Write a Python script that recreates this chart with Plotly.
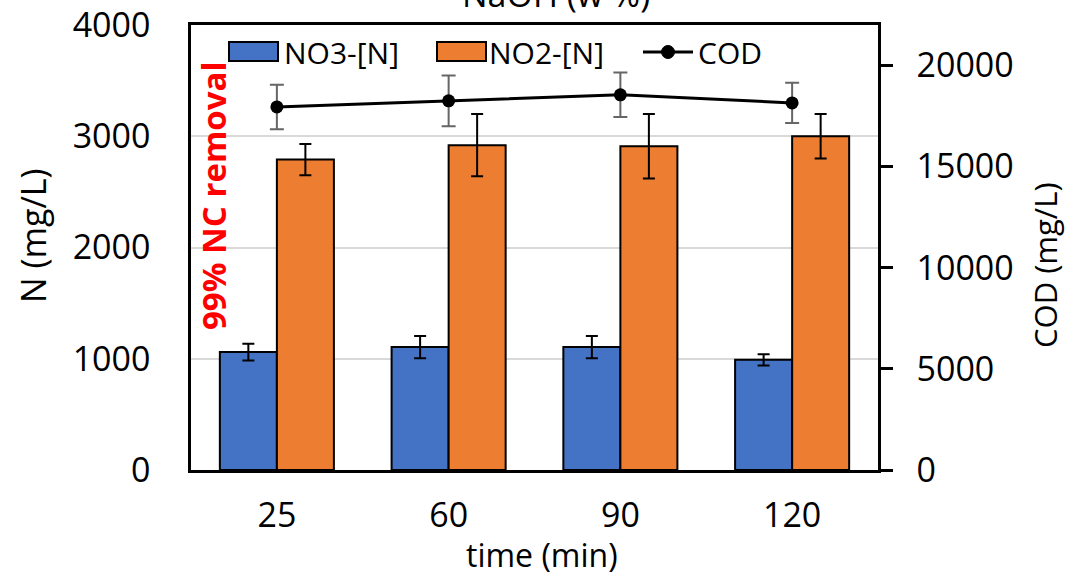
import plotly.graph_objects as go

# Reaction time categories (min)
time_labels = ["25", "60", "90", "120"]

# Nitrogen species (mg/L) with standard deviations
no3_n = [1060, 1105, 1105, 990]
no3_err = [75, 100, 100, 50]
no2_n = [2790, 2920, 2910, 3000]
no2_err = [140, 280, 290, 200]

# Chemical oxygen demand (mg/L) with standard deviations
cod = [17950, 18250, 18550, 18150]
cod_err = [1100, 1250, 1100, 1000]

BLUE = "#4472C4"
ORANGE = "#ED7D31"
FONT = "Open Sans"

# plot-area geometry in pixels, used to place legend and titles
W, H = 1072, 577
L, R, T, B = 191, 194, 25, 107
PW, PH = W - L - R, H - T - B


def px(x):
    return (x - L) / PW


def py(y):
    return (H - B - y) / PH


fig = go.Figure()

fig.add_trace(go.Bar(
    x=time_labels, y=no3_n, name="NO3-[N]",
    marker=dict(color=BLUE, line=dict(color="black", width=2)),
    error_y=dict(type="data", array=no3_err, color="black", thickness=2, width=6),
))
fig.add_trace(go.Bar(
    x=time_labels, y=no2_n, name="NO2-[N]",
    marker=dict(color=ORANGE, line=dict(color="black", width=2)),
    error_y=dict(type="data", array=no2_err, color="black", thickness=2, width=6),
))
fig.add_trace(go.Scatter(
    x=time_labels, y=cod, name="COD", yaxis="y2",
    mode="lines+markers",
    line=dict(color="black", width=3),
    marker=dict(color="black", size=13),
    error_y=dict(type="data", array=cod_err, color="#666666", thickness=2, width=7),
))

# legend drawn as shapes + text inside the top of the plot area
shapes = [
    dict(type="rect", xref="paper", yref="paper",
         x0=px(229), x1=px(278), y0=py(61), y1=py(42),
         fillcolor=BLUE, line=dict(color="black", width=2)),
    dict(type="rect", xref="paper", yref="paper",
         x0=px(437), x1=px(486), y0=py(61), y1=py(42),
         fillcolor=ORANGE, line=dict(color="black", width=2)),
    dict(type="line", xref="paper", yref="paper",
         x0=px(643), x1=px(693), y0=py(52), y1=py(52),
         line=dict(color="black", width=3)),
    dict(type="circle", xref="paper", yref="paper",
         x0=px(661.5), x1=px(674.5), y0=py(58.5), y1=py(45.5),
         fillcolor="black", line=dict(color="black", width=1)),
]


def label(text, x, y, size=34, angle=0, anchor="center", color="black", bold=False):
    return dict(text=f"<b>{text}</b>" if bold else text,
                x=px(x), y=py(y), xref="paper", yref="paper",
                xanchor=anchor, yanchor="middle", textangle=angle, showarrow=False,
                font=dict(family=FONT, size=size, color=color))


annotations = [
    label("NO3-[N]", 282, 52, size=30, anchor="left"),
    label("NO2-[N]", 487, 52, size=30, anchor="left"),
    label("COD", 696, 52, size=30, anchor="left"),
    label("99% NC removal", 213, 196, size=33, angle=-90, color="#FF0000", bold=True),
    label("time (min)", 542, 554, size=32),
    label("N (mg/L)", 33, 236, angle=-90),
    label("COD (mg/L)", 1045, 265, size=31, angle=-90),
    dict(text="NaOH (w %)", x=px(556), y=1.013, xref="paper", yref="paper",
         xanchor="center", yanchor="bottom", showarrow=False,
         font=dict(family=FONT, size=34, color="black")),
]

fig.update_layout(
    width=W, height=H, autosize=False,
    margin=dict(l=L, r=R, t=T, b=B),
    paper_bgcolor="white", plot_bgcolor="white",
    barmode="group", bargap=0.336, bargroupgap=0,
    showlegend=False,
    font=dict(family=FONT, size=34, color="black"),
    shapes=shapes, annotations=annotations,
    xaxis=dict(
        type="category", automargin=False,
        showline=True, linecolor="black", linewidth=2.5, mirror=True,
        ticks="", ticklabelstandoff=13,
        tickfont=dict(size=34),
    ),
    yaxis=dict(
        range=[0, 4000], dtick=1000, automargin=False,
        showgrid=True, gridcolor="#D9D9D9", gridwidth=2,
        zeroline=False,
        showline=True, linecolor="black", linewidth=2.5, mirror=True,
        ticks="", ticklabelstandoff=31,
        tickfont=dict(size=34),
    ),
    yaxis2=dict(
        overlaying="y", side="right", automargin=False,
        range=[0, 22000], tickvals=[0, 5000, 10000, 15000, 20000],
        tickformat="d",
        showgrid=False, zeroline=False,
        showline=True, linecolor="black", linewidth=2.5,
        ticks="outside", ticklen=12, tickwidth=2.5, tickcolor="black",
        ticklabelstandoff=17,
        tickfont=dict(size=34),
    ),
)

fig.write_html("out.html")
